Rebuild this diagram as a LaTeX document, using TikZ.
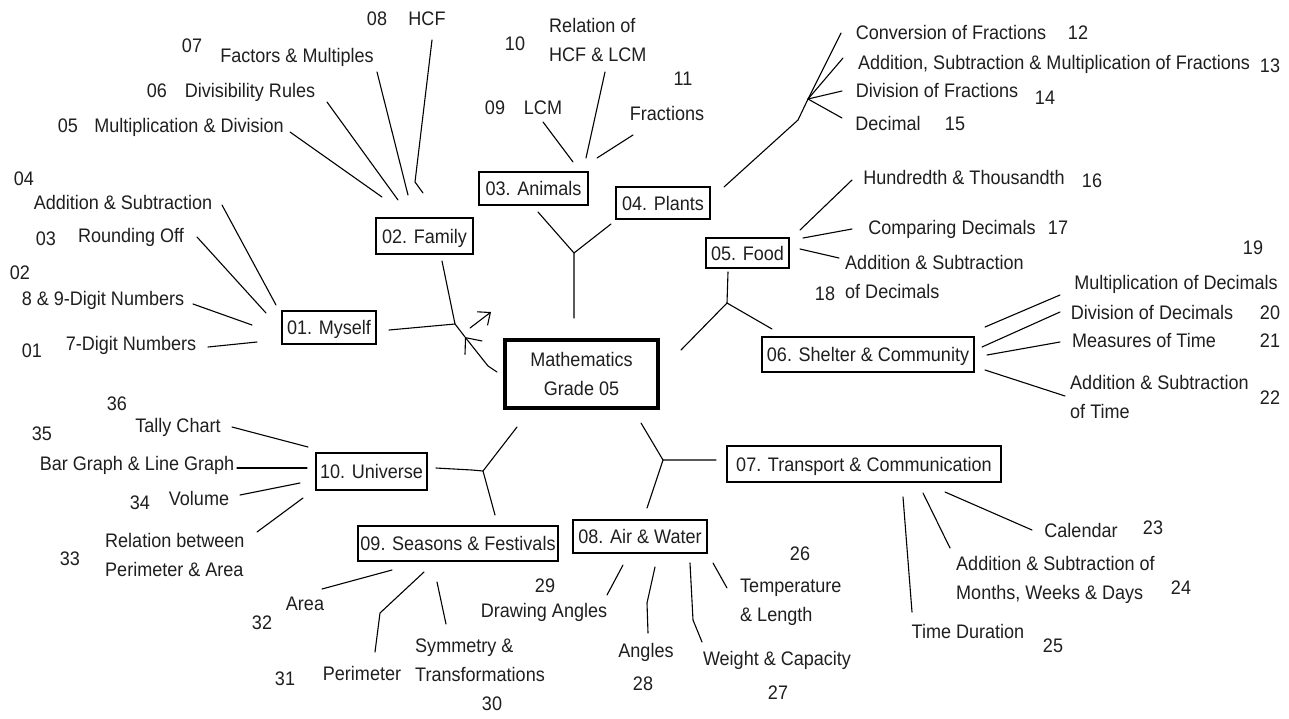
\documentclass[tikz,border=0pt]{standalone}
\usepackage{fontspec}
\setmainfont[FakeStretch=0.92]{Liberation Sans}
\usetikzlibrary{arrows.meta}
\begin{document}
\begin{tikzpicture}[x=1pt,y=-1pt,
  every node/.style={font=\fontsize{19.6}{29}\selectfont, text=black!88, inner sep=0pt},
  lab/.style={text height=14pt, text depth=0pt},
  mlab/.style={align=left, anchor=base west},
  topic/.style={draw, line width=1.1pt, text height=14pt, text depth=0pt},
  ln/.style={line width=1.1pt, line cap=round, line join=round},
]
\useasboundingbox[fill=white] (0,0) rectangle (1289,718);

% ---------- boxes ----------
\node[draw, line width=3.5pt, minimum width=153pt, minimum height=68pt, align=center] (math) at (581.5,374) {Mathematics\\Grade 05};
\node[topic, minimum width=94pt,  minimum height=33pt] (myself)    at (329,327.5) {01. Myself};
\node[topic, minimum width=97pt,  minimum height=36pt] (family)    at (424.5,236) {02. Family};
\node[topic, minimum width=109pt, minimum height=33pt] (animals)   at (533.5,188.5) {03. Animals};
\node[topic, minimum width=94pt,  minimum height=32pt] (plants)    at (663,203) {04. Plants};
\node[topic, minimum width=83pt,  minimum height=30pt] (food)      at (747.5,253) {05. Food};
\node[topic, minimum width=212pt, minimum height=35pt] (shelter)   at (868,354.5) {06. Shelter \& Community};
\node[topic, minimum width=274pt, minimum height=36pt] (transport) at (864,464) {07. Transport \& Communication};
\node[topic, minimum width=134pt, minimum height=33pt] (air)       at (640,536.5) {08. Air \& Water};
\node[topic, minimum width=200pt, minimum height=35pt] (seasons)   at (458,543.5) {09. Seasons \& Festivals};
\node[topic, minimum width=111pt, minimum height=37pt] (universe)  at (371.5,471.5) {10. Universe};

% ---------- labels ----------
\node[lab] (n08) at (377,18) {08};
\node[lab] (tHCF) at (427,18) {HCF};
\node[lab] (n07) at (192,45) {07};
\node[lab] (tFM) at (297,55) {Factors \& Multiples};
\node[lab] (n06) at (157,90) {06};
\node[lab] (tDR) at (250,90) {Divisibility Rules};
\node[lab] (n05) at (68,125) {05};
\node[lab] (tMD) at (189,125) {Multiplication \& Division};
\node[lab] (n04) at (24,178) {04};
\node[lab] (tAS) at (123,202) {Addition \& Subtraction};
\node[lab] (n03) at (46,238) {03};
\node[lab] (tRO) at (131,235) {Rounding Off};
\node[lab] (n02) at (20,272) {02};
\node[lab] (t89) at (103,298) {8 \& 9-Digit Numbers};
\node[lab] (n01) at (32,350) {01};
\node[lab] (t7) at (131,343) {7-Digit Numbers};

\node[lab] (n36) at (117,403) {36};
\node[lab] (tTC) at (178,425) {Tally Chart};
\node[lab] (n35) at (42,433) {35};
\node[lab] (tBG) at (137,463) {Bar Graph \& Line Graph};
\node[lab] (n34) at (140,502) {34};
\node[lab] (tVol) at (199,498) {Volume};
\node[lab] (n33) at (70,558) {33};
\node[mlab] (tRB) at (105,576) {Relation between\\Perimeter \& Area};

\node[lab] (tArea) at (305,603) {Area};
\node[lab] (n32) at (262,622) {32};
\node[lab] (tPer) at (362,673) {Perimeter};
\node[lab] (n31) at (285,678) {31};
\node[mlab] (tSym) at (415,681) {Symmetry \&\\Transformations};
\node[lab] (n30) at (492,703) {30};

\node[lab] (n29) at (545,585) {29};
\node[lab] (tDA) at (544,610) {Drawing Angles};
\node[lab] (tAng) at (646,650) {Angles};
\node[lab] (n28) at (643,683) {28};
\node[lab] (tWC) at (777,658) {Weight \& Capacity};
\node[lab] (n27) at (778,692) {27};
\node[lab] (n26) at (800,553) {26};
\node[mlab] (tTL) at (740,621) {Temperature\\\& Length};

\node[lab] (tCal) at (1081,530) {Calendar};
\node[lab] (n23) at (1153,527) {23};
\node[mlab] (tMW) at (956,599) {Addition \& Subtraction of\\Months, Weeks \& Days};
\node[lab] (n24) at (1181,587) {24};
\node[lab] (tTD) at (968,631) {Time Duration};
\node[lab] (n25) at (1053,645) {25};

\node[lab] (n19) at (1253,247) {19};
\node[lab] (tMDec) at (1176,282) {Multiplication of Decimals};
\node[lab] (tDDec) at (1152,312) {Division of Decimals};
\node[lab] (n20) at (1270,312) {20};
\node[lab] (tMT) at (1144,340) {Measures of Time};
\node[lab] (n21) at (1270,340) {21};
\node[mlab] (tAST) at (1070,418) {Addition \& Subtraction\\of Time};
\node[lab] (n22) at (1270,397) {22};

\node[mlab] (tASD) at (845,298) {Addition \& Subtraction\\of Decimals};
\node[lab] (n18) at (825,293) {18};
\node[lab] (tHT) at (964,177) {Hundredth \& Thousandth};
\node[lab] (n16) at (1092,180) {16};
\node[lab] (tCD) at (952,227) {Comparing Decimals};
\node[lab] (n17) at (1058,227) {17};

\node[lab] (tCF) at (951,32) {Conversion of Fractions};
\node[lab] (n12) at (1078,32) {12};
\node[lab] (tASM) at (1054,62) {Addition, Subtraction \& Multiplication of Fractions};
\node[lab] (n13) at (1270,65) {13};
\node[lab] (tDF) at (937,90) {Division of Fractions};
\node[lab] (n14) at (1045,97) {14};
\node[lab] (tDec) at (888,123) {Decimal};
\node[lab] (n15) at (955,123) {15};

\node[lab] (n10) at (515,43) {10};
\node[mlab] (tRHL) at (549,61) {Relation of\\HCF \& LCM};
\node[lab] (n11) at (683,78) {11};
\node[lab] (n09) at (495,107) {09};
\node[lab] (tLCM) at (543,107) {LCM};
\node[lab] (tFr) at (667,113) {Fractions};

% ---------- main branch points ----------
\coordinate (jF) at (455,324);
\coordinate (myE) at (389,330);
\coordinate (faB) at (442,261);
\coordinate (arS) at (497,372);
\coordinate (arK) at (488,366);
\coordinate (arT) at (465,337);
\coordinate (fa1) at (470,328);
\coordinate (fa2) at (491,312);

\coordinate (jA) at (574,253);
\coordinate (anS) at (574,318);
\coordinate (anB) at (538,212);
\coordinate (plB) at (611,224);

\coordinate (jD) at (727,303);
\coordinate (foB) at (728,272);
\coordinate (ceNE) at (681,350);
\coordinate (shW) at (772,329);

\coordinate (jT) at (663,460);
\coordinate (ceSE) at (641,423);
\coordinate (trW) at (716,460);
\coordinate (aiN) at (647,508);

\coordinate (jU) at (483,471);
\coordinate (ceSW) at (517,427);
\coordinate (unE) at (436,468);
\coordinate (unK) at (472,470);
\coordinate (seN) at (495,515);

\draw[ln] (myE) -- (jF) -- (faB);
\draw[ln] (arT) -- (jF);
\draw[ln, -{Straight Barb[length=13pt,width=22pt]}] (arS) -- (arK) -- (arT);
\draw[ln, -{Straight Barb[length=10pt,width=17pt]}] (fa1) -- (fa2);
\draw[ln] (anS) -- (jA) -- (anB);
\draw[ln] (jA) -- (plB);
\draw[ln] (foB) -- (jD) -- (ceNE);
\draw[ln] (jD) -- (shW);
\draw[ln] (ceSE) -- (jT) -- (trW);
\draw[ln] (jT) -- (aiN);
\draw[ln] (ceSW) -- (jU) -- (unK) -- (unE);
\draw[ln] (jU) -- (seN);

% ---------- family ----------
\coordinate (f5a) at (290,132); \coordinate (f5b) at (382,197);
\coordinate (f6a) at (327,102); \coordinate (f6b) at (398,200);
\coordinate (f7a) at (377,72);  \coordinate (f7b) at (408,195);
\coordinate (f8a) at (432,40);  \coordinate (f8b) at (415,182); \coordinate (f8c) at (423,193);
\draw[ln] (f5a) -- (f5b);
\draw[ln] (f6a) -- (f6b);
\draw[ln] (f7a) -- (f7b);
\draw[ln] (f8a) -- (f8b) -- (f8c);

% ---------- myself ----------
\coordinate (m4a) at (222,205); \coordinate (m4b) at (276,305);
\coordinate (m3a) at (197,237); \coordinate (m3b) at (266,313);
\coordinate (m2a) at (193,304); \coordinate (m2b) at (252,325);
\coordinate (m1a) at (208,347); \coordinate (m1b) at (257,342);
\draw[ln] (m4a) -- (m4b);
\draw[ln] (m3a) -- (m3b);
\draw[ln] (m2a) -- (m2b);
\draw[ln] (m1a) -- (m1b);

% ---------- animals ----------
\coordinate (a9a) at (543,122);  \coordinate (a9b) at (573,162);
\coordinate (a10a) at (605,72);  \coordinate (a10b) at (586,158);
\coordinate (a11a) at (633,135); \coordinate (a11b) at (597,158);
\draw[ln] (a9a) -- (a9b);
\draw[ln] (a10a) -- (a10b);
\draw[ln] (a11a) -- (a11b);

% ---------- plants ----------
\coordinate (p0) at (724,187); \coordinate (pk) at (798,120); \coordinate (ph) at (808,99);
\coordinate (p12) at (841,33); \coordinate (p13) at (843,58);
\coordinate (p14) at (842,91); \coordinate (p15) at (842,118);
\draw[ln] (p0) -- (pk) -- (ph);
\draw[ln] (ph) -- (p12);
\draw[ln] (ph) -- (p13);
\draw[ln] (ph) -- (p14);
\draw[ln] (ph) -- (p15);

% ---------- food ----------
\coordinate (d16a) at (800,230); \coordinate (d16b) at (852,180);
\coordinate (d17a) at (803,238); \coordinate (d17b) at (852,229);
\coordinate (d18a) at (800,249); \coordinate (d18b) at (839,258);
\draw[ln] (d16a) -- (d16b);
\draw[ln] (d17a) -- (d17b);
\draw[ln] (d18a) -- (d18b);

% ---------- shelter ----------
\coordinate (s19a) at (985,327); \coordinate (s19b) at (1060,295);
\coordinate (s20a) at (982,347); \coordinate (s20b) at (1060,312);
\coordinate (s21a) at (987,355); \coordinate (s21b) at (1060,342);
\coordinate (s22a) at (985,370); \coordinate (s22b) at (1065,396);
\draw[ln] (s19a) -- (s19b);
\draw[ln] (s20a) -- (s20b);
\draw[ln] (s21a) -- (s21b);
\draw[ln] (s22a) -- (s22b);

% ---------- transport ----------
\coordinate (t25a) at (903,497); \coordinate (t25b) at (912,612);
\coordinate (t24a) at (923,493); \coordinate (t24b) at (950,548);
\coordinate (t23a) at (945,492); \coordinate (t23b) at (1032,530);
\draw[ln] (t25a) -- (t25b);
\draw[ln] (t24a) -- (t24b);
\draw[ln] (t23a) -- (t23b);

% ---------- air & water ----------
\coordinate (w29a) at (623,565); \coordinate (w29b) at (607,595);
\coordinate (w28a) at (655,567); \coordinate (w28k) at (647,603); \coordinate (w28b) at (648,633);
\coordinate (w27a) at (690,563); \coordinate (w27k) at (693,620); \coordinate (w27b) at (702,642);
\coordinate (w26a) at (713,563); \coordinate (w26b) at (727,588);
\draw[ln] (w29a) -- (w29b);
\draw[ln] (w28a) -- (w28k) -- (w28b);
\draw[ln] (w27a) -- (w27k) -- (w27b);
\draw[ln] (w26a) -- (w26b);

% ---------- seasons ----------
\coordinate (e32a) at (392,570); \coordinate (e32b) at (322,589);
\coordinate (e31a) at (424,572); \coordinate (e31k) at (380,613); \coordinate (e31b) at (375,652);
\coordinate (e30a) at (437,582); \coordinate (e30b) at (446,624);
\draw[ln] (e32a) -- (e32b);
\draw[ln] (e31a) -- (e31k) -- (e31b);
\draw[ln] (e30a) -- (e30b);

% ---------- universe ----------
\coordinate (u36a) at (232,427); \coordinate (u36b) at (308,447);
\coordinate (u35a) at (237,468); \coordinate (u35b) at (307,468);
\coordinate (u34a) at (240,495); \coordinate (u34b) at (300,483);
\coordinate (u33a) at (257,532); \coordinate (u33b) at (303,498);
\draw[ln] (u36a) -- (u36b);
\draw[ln] (u35a) -- (u35b);
\draw[ln] (u34a) -- (u34b);
\draw[ln] (u33a) -- (u33b);
\end{tikzpicture}
\end{document}
